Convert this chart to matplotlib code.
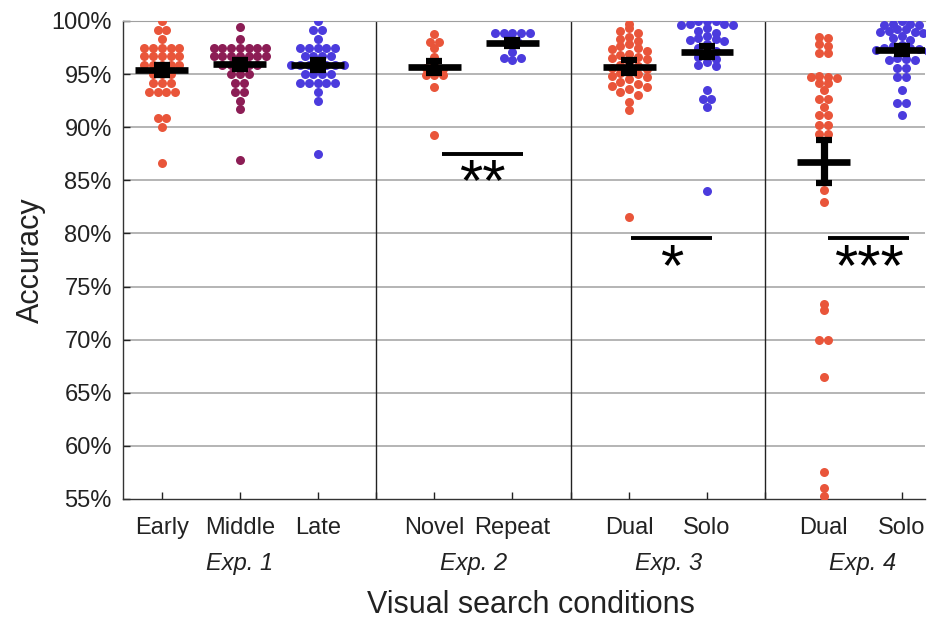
import numpy as np
import matplotlib
matplotlib.use("Agg")
import matplotlib.pyplot as plt

plt.rcParams['font.family'] = ['Liberation Sans', 'DejaVu Sans']

# conditions, their x positions and the experiment each belongs to
conditions = ["Early", "Middle", "Late", "Novel", "Repeat", "Dual", "Solo", "Dual", "Solo"]
positions = [1, 2, 3, 4.5, 5.5, 7, 8, 9.5, 10.5]
experiments = ["Exp. 1", "Exp. 2", "Exp. 3", "Exp. 4"]
exp_centers = [2, 5, 7.5, 10]
dividers = [3.75, 6.25, 8.75]

red = "#E9553A"
plum = "#8C1D55"
blue = "#4B3BDD"
colors = [red, plum, blue, red, blue, red, blue, red, blue]

# accuracy per participant (%)
early = [100, 99.17, 99.17, 98.33,
         97.5, 97.5, 97.5, 97.5, 97.5,
         96.67, 96.67, 96.67, 96.67, 96.67,
         95.83, 95.83, 95.83, 95.83, 95.83,
         95.0, 95.0, 95.0,
         94.17, 94.17, 94.17,
         93.33, 93.33, 93.33, 93.33,
         90.83, 90.83, 90.0, 86.67]
middle = [99.4, 98.33,
          97.5, 97.5, 97.5, 97.5, 97.5, 97.5, 97.5,
          96.67, 96.67, 96.67, 96.67, 96.67, 96.67, 96.67,
          95.83, 95.83, 95.83, 95.83, 95.83,
          95.0, 95.0, 95.0,
          94.17, 94.17, 93.33, 93.33,
          92.5, 91.67, 86.9]
late = [100, 99.17, 99.17, 98.33,
        97.5, 97.5, 97.5, 97.5, 97.5,
        96.67, 96.67, 96.67, 96.67,
        95.83, 95.83, 95.83, 95.83, 95.83, 95.83, 95.83,
        95.0, 95.0, 95.0, 95.0,
        94.17, 94.17, 94.17, 94.17, 94.17,
        93.33, 92.5, 87.5]
novel = [98.8, 98.0, 98.0, 97.5, 96.6, 96.0, 95.6, 95.5,
         94.9, 94.9, 94.9, 93.75, 89.3]
repeat = [98.85, 98.85, 98.85, 98.85, 98.85, 98.4, 98.1, 97.1,
          96.3, 96.5, 96.5]
dual3 = [99.7, 99.3, 99.1, 98.9, 98.5, 98.3, 98.1,
         97.8, 97.6, 97.5, 97.4, 97.2,
         96.9, 96.8, 96.6, 96.5, 96.4,
         96.1, 95.9, 95.8, 95.6, 95.5,
         95.3, 95.1, 95.0, 94.8, 94.7,
         94.5, 94.3, 94.1, 93.9, 93.8,
         93.6, 93.3, 93.0, 92.4, 91.6, 81.5]
solo3 = [100.0, 100.0, 100.0, 99.7, 99.7, 99.6, 99.6,
         99.3, 99.1, 98.9,
         98.6, 98.4, 98.3, 98.2, 98.1,
         97.8, 97.5, 97.2,
         96.9, 96.6, 96.4,
         96.1, 95.9, 95.8,
         93.5, 92.7, 92.7, 91.9, 84.0]
dual4 = [98.5, 98.4, 97.8, 97.6, 97.0, 97.0,
         94.8, 94.7, 94.7, 94.6, 94.2, 94.2,
         93.5, 92.7, 92.7, 91.9,
         91.1, 91.1, 90.2, 90.2, 89.4, 89.4,
         84.1, 83.0, 73.4, 72.8, 70.0, 70.0, 66.5, 57.5, 56.0, 55.3]
solo4 = [100.0, 99.7, 99.7, 99.6, 99.6,
         99.2, 99.2, 99.1, 99.0, 99.0, 98.9,
         98.6, 98.4, 98.2,
         97.7, 97.6, 97.5, 97.5, 97.4, 97.3, 97.2,
         96.5, 96.4, 96.3, 96.3,
         95.6, 95.6, 94.7, 94.7,
         93.5, 92.3, 92.3, 91.1]
groups = [early, middle, late, novel, repeat, dual3, solo3, dual4, solo4]

# group means and standard errors
means = [95.39, 95.92, 95.86, 95.64, 97.9, 95.7, 97.1, 86.75, 97.27]
sems = [0.5, 0.45, 0.5, 0.57, 0.3, 0.58, 0.5, 2.0, 0.38]

# significance bars
sig_x0 = [4.6, 7.03, 9.56]
sig_x1 = [5.64, 8.07, 10.6]
sig_y = [87.5, 79.55, 79.55]
sig_text = ["**", "*", "***"]


def spread(vals, center, dx=0.112, binw=100 / 120):
    # plotSpread-like layout: points in the same bin are spread sideways
    vals = np.asarray(vals, float)
    xs = np.full(len(vals), float(center))
    bins = np.round(vals / binw).astype(int)
    for b in np.unique(bins):
        idx = np.where(bins == b)[0]
        n = len(idx)
        slots = np.arange(n) - (n - 1) / 2
        order = np.argsort(np.abs(slots) + 1e-3 * slots, kind="stable")
        xs[idx] = center + slots[order] * dx
    return xs


fig = plt.figure(figsize=(9.31, 6.2), dpi=100)
ax = fig.add_axes([0.1321, 0.1952, 0.8615, 0.7710])
ax.set_xlim(0.5, 10.8)
ax.set_ylim(55, 100)

for y in np.arange(60, 100, 5):
    ax.axhline(y, color="#a0a0a0", lw=1.1, zorder=1)
for d in dividers:
    ax.axvline(d, color="#222222", lw=1.0, zorder=1)

for vals, p, col in zip(groups, positions, colors):
    xs = spread(vals, p)
    ax.scatter(xs, vals, s=42, color=col, linewidths=0, zorder=3)

for p, m, e in zip(positions, means, sems):
    ax.hlines(m, p - 0.34, p + 0.34, colors="k", lw=4.8, zorder=4)
    ax.errorbar(p, m, yerr=e, fmt="none", ecolor="k", elinewidth=5.2,
                capsize=5.8, capthick=4.5, zorder=5)

for x0, x1, y, t in zip(sig_x0, sig_x1, sig_y, sig_text):
    ax.hlines(y, x0, x1, colors="k", lw=2.8, zorder=4)
    ax.text((x0 + x1) / 2, y - 4.4, t, ha="center", va="baseline",
            fontsize=43, zorder=4)

ax.set_yticks(np.arange(55, 101, 5))
ax.set_yticklabels([f"{v}%" for v in range(55, 101, 5)])
ax.set_xticks(positions + dividers)
ax.set_xticklabels(conditions + [""] * len(dividers))
ax.tick_params(direction="in", length=5, width=1, labelsize=17,
               colors="#222222")
ax.tick_params(axis="x", pad=13)
ax.tick_params(axis="y", pad=8)

ax.spines["right"].set_visible(False)
ax.spines["top"].set_color("#a0a0a0")
for s in ["left", "bottom"]:
    ax.spines[s].set_color("#333333")
    ax.spines[s].set_linewidth(1.0)

trans = ax.get_xaxis_transform()
for c, lab in zip(exp_centers, experiments):
    ax.text(c, -0.134, lab, transform=trans, ha="center", va="center",
            fontsize=17, style="italic", color="#222222")

ax.text(0.509, -0.222, "Visual search conditions", transform=ax.transAxes,
        ha="center", va="center", fontsize=22, color="#222222")
ax.set_ylabel("Accuracy", fontsize=22, color="#222222")
ax.yaxis.set_label_coords(-0.096, 0.5)

fig.savefig("out.png", dpi=100)
